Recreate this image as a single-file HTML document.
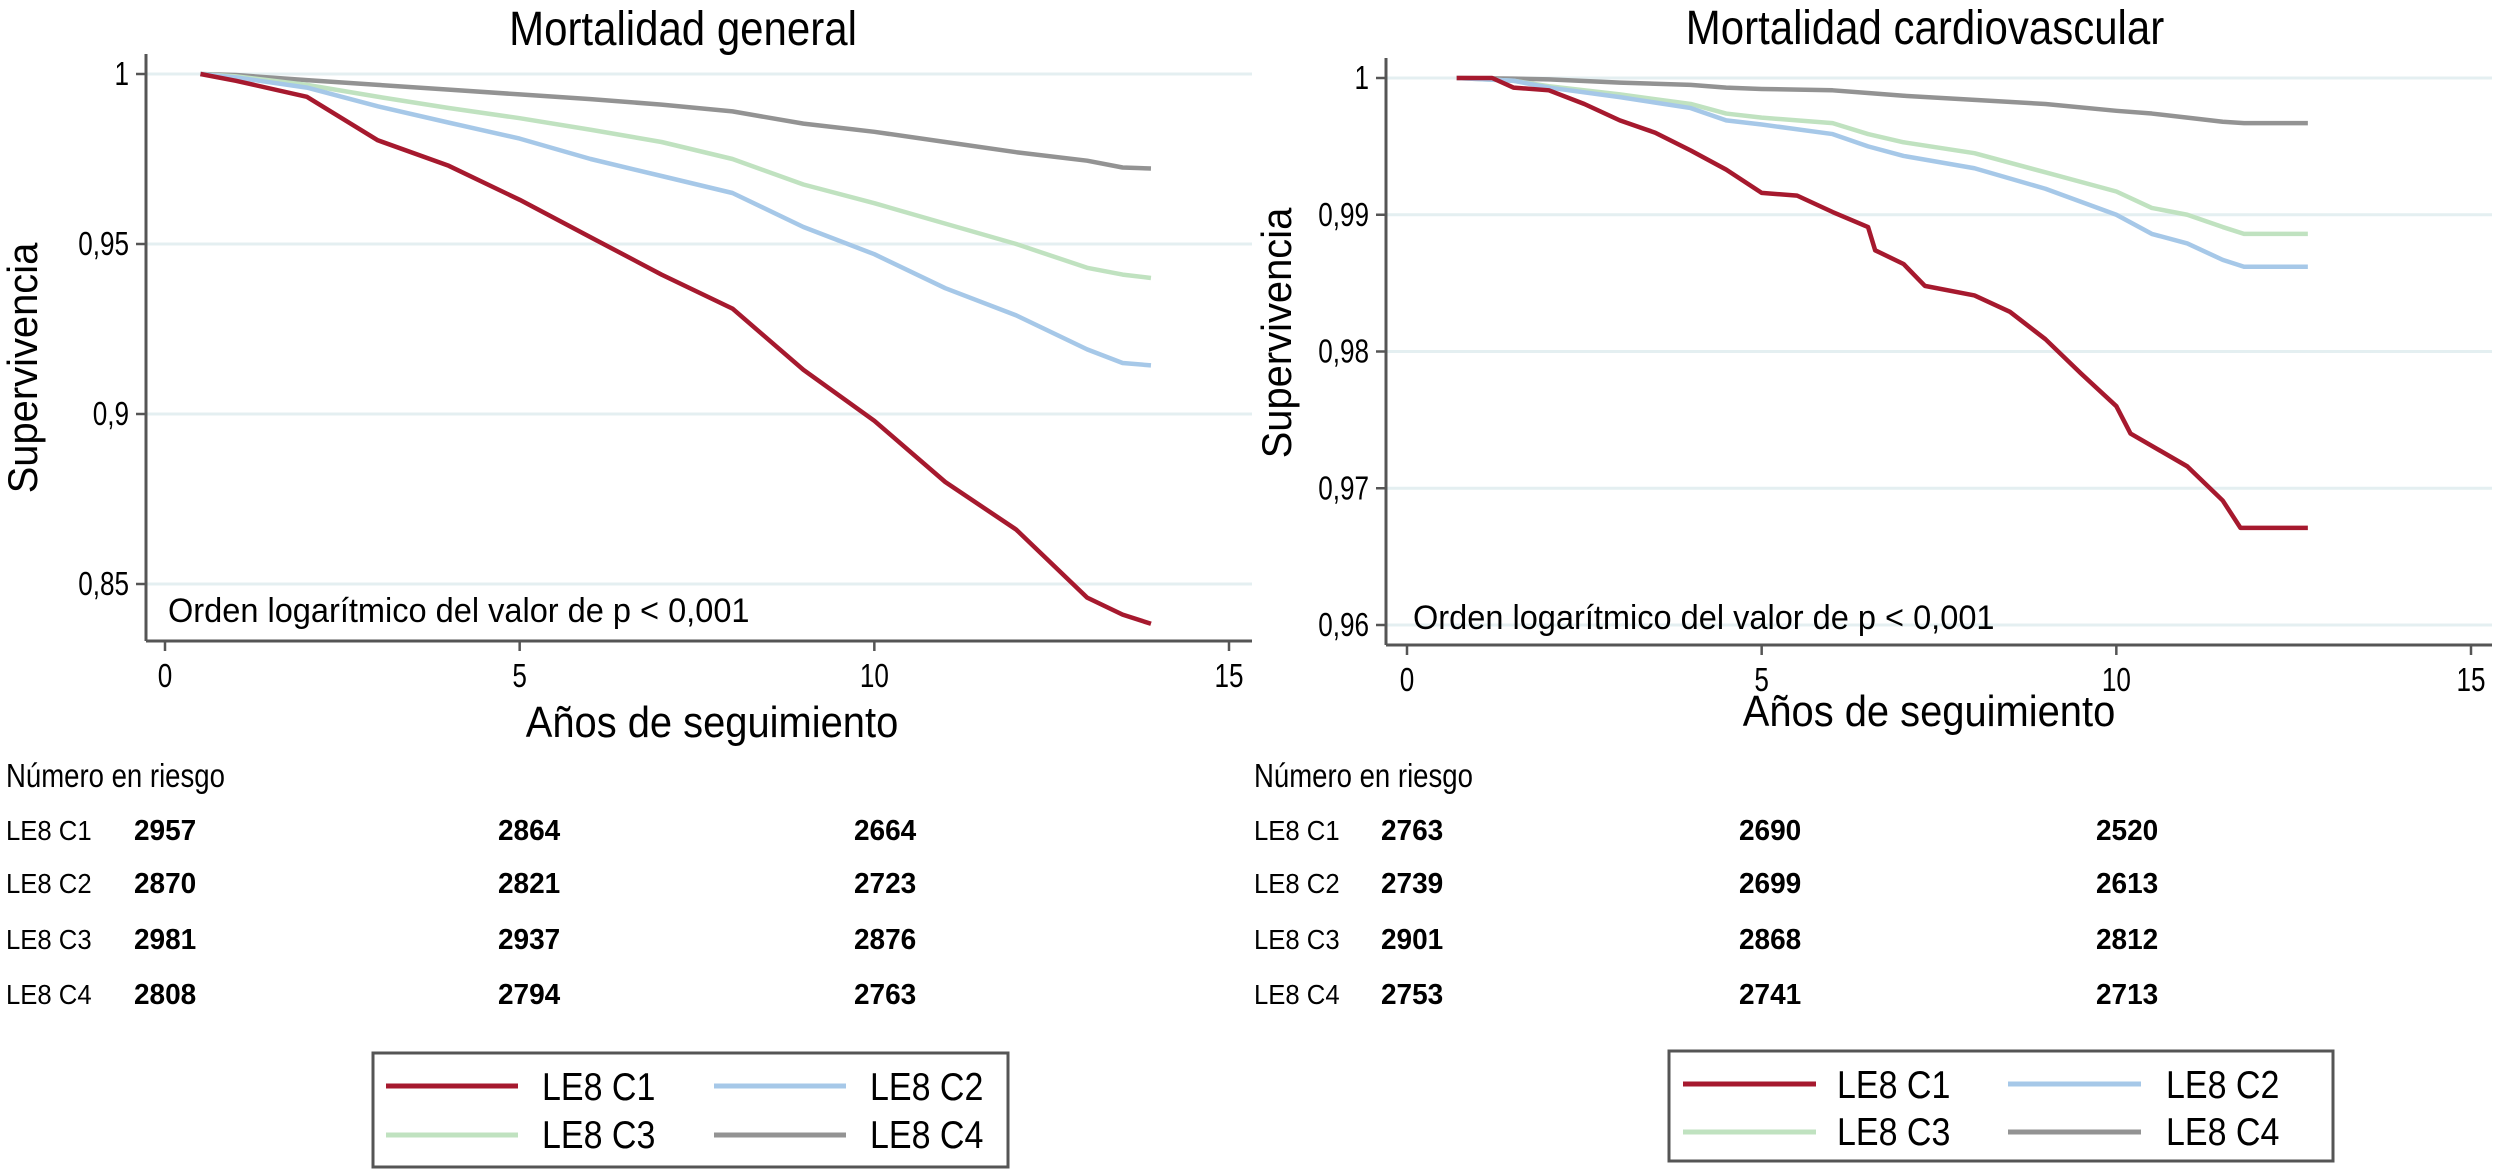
<!DOCTYPE html>
<html><head><meta charset="utf-8">
<style>
html,body{margin:0;padding:0;background:#fff;overflow:hidden;width:2508px;height:1176px;}
svg{display:block;font-family:"Liberation Sans",sans-serif;}
</style></head>
<body>
<svg id="fig" width="2508" height="1176" viewBox="0 0 2508 1176" xmlns="http://www.w3.org/2000/svg">
<rect width="2508" height="1176" fill="#fff"/>
<g id="left"></g>
<g id="right"></g>

<text transform="translate(683,45) scale(1,1.15)" font-size="42" text-anchor="middle" fill="#000">Mortalidad general</text>
<text transform="translate(1925,44) scale(1,1.15)" font-size="42" text-anchor="middle" fill="#000">Mortalidad cardiovascular</text>

<text transform="translate(37,368) rotate(-90) scale(1.05,1.1)" font-size="38" text-anchor="middle" fill="#000">Supervivencia</text>
<text transform="translate(1291,333) rotate(-90) scale(1.05,1.1)" font-size="38" text-anchor="middle" fill="#000">Supervivencia</text>

<text transform="translate(712,737) scale(1.05,1.15)" font-size="38" text-anchor="middle" fill="#000">Años de seguimiento</text>
<text transform="translate(1929,726) scale(1.05,1.15)" font-size="38" text-anchor="middle" fill="#000">Años de seguimiento</text>

<text transform="translate(168,622) scale(1.05,1.12)" font-size="31" fill="#000">Orden logarítmico del valor de p &lt; 0,001</text>
<text transform="translate(1413,629) scale(1.05,1.12)" font-size="31" fill="#000">Orden logarítmico del valor de p &lt; 0,001</text>

<g id="riskL"></g>
<g id="riskR"></g>

<g>
<rect x="373" y="1053" width="635" height="114" fill="#fff" stroke="#555" stroke-width="3"/>
<line x1="386" y1="1086" x2="518" y2="1086" stroke="#a6192e" stroke-width="5"/>
<text transform="translate(542,1100) scale(1,1.15)" font-size="34">LE8 C1</text>
<line x1="714" y1="1086" x2="846" y2="1086" stroke="#a6c8e8" stroke-width="5"/>
<text transform="translate(870,1100) scale(1,1.15)" font-size="34">LE8 C2</text>
<line x1="386" y1="1135" x2="518" y2="1135" stroke="#c0e2c0" stroke-width="5"/>
<text transform="translate(542,1148) scale(1,1.15)" font-size="34">LE8 C3</text>
<line x1="714" y1="1135" x2="846" y2="1135" stroke="#939393" stroke-width="5"/>
<text transform="translate(870,1148) scale(1,1.15)" font-size="34">LE8 C4</text>
</g>
<g>
<rect x="1669" y="1051" width="664" height="110" fill="#fff" stroke="#555" stroke-width="3"/>
<line x1="1683" y1="1084" x2="1816" y2="1084" stroke="#a6192e" stroke-width="5"/>
<text transform="translate(1837,1098) scale(1,1.15)" font-size="34">LE8 C1</text>
<line x1="2008" y1="1084" x2="2141" y2="1084" stroke="#a6c8e8" stroke-width="5"/>
<text transform="translate(2166,1098) scale(1,1.15)" font-size="34">LE8 C2</text>
<line x1="1683" y1="1132" x2="1816" y2="1132" stroke="#c0e2c0" stroke-width="5"/>
<text transform="translate(1837,1145) scale(1,1.15)" font-size="34">LE8 C3</text>
<line x1="2008" y1="1132" x2="2141" y2="1132" stroke="#939393" stroke-width="5"/>
<text transform="translate(2166,1145) scale(1,1.15)" font-size="34">LE8 C4</text>
</g>
</svg>
<script>
const groups = ["LE8 C1","LE8 C2","LE8 C3","LE8 C4"];
const colors = ["#a6192e","#a6c8e8","#c0e2c0","#939393"];
const xTicks = [0,5,10,15];
const xTickLabels = ["0","5","10","15"];

const genYTicks = [1,0.95,0.9,0.85];
const genYTickLabels = ["1","0,95","0,9","0,85"];
const genYears = [0.5,1,2,3,4,5,6,7,8,9,10,11,12,13,13.5,13.9];
const genC1 = [1,0.998,0.9933,0.9805,0.973,0.963,0.952,0.941,0.931,0.913,0.898,0.880,0.866,0.846,0.841,0.8383];
const genC2 = [1,0.999,0.996,0.9905,0.9857,0.981,0.975,0.970,0.965,0.955,0.947,0.937,0.929,0.919,0.915,0.9143];
const genC3 = [1,0.9993,0.9968,0.9933,0.990,0.987,0.9836,0.980,0.975,0.9675,0.962,0.956,0.950,0.943,0.941,0.940];
const genC4 = [1,0.9997,0.9982,0.9968,0.9954,0.994,0.9926,0.991,0.989,0.9854,0.983,0.980,0.977,0.9745,0.9725,0.9722];

const cvYTicks = [1,0.99,0.98,0.97,0.96];
const cvYTickLabels = ["1","0,99","0,98","0,97","0,96"];
const cvC1Years = [0.7,1.2,1.5,2,2.5,3,3.5,4,4.5,5,5.5,6,6.5,6.6,7,7.3,8,8.5,9,9.5,10,10.2,11,11.5,11.75,12.7];
const cvC1 = [1,1,0.9993,0.9991,0.9981,0.9969,0.996,0.9947,0.9933,0.9916,0.9914,0.9902,0.9891,0.9874,0.9864,0.9848,0.9841,0.9829,0.9809,0.9784,0.976,0.974,0.9716,0.9691,0.9671,0.9671];
const cvYears = [0.7,1.5,2,3,4,4.5,5,6,6.5,7,8,9,10,10.5,11,11.5,11.8,12.7];
const cvC2 = [1,0.9998,0.9993,0.9986,0.9978,0.9969,0.9966,0.9959,0.995,0.9943,0.9934,0.9919,0.99,0.9886,0.9879,0.9867,0.9862,0.9862];
const cvC3 = [1,0.9998,0.9994,0.9988,0.9981,0.9974,0.9971,0.9967,0.9959,0.9953,0.9945,0.9931,0.9917,0.9905,0.99,0.9891,0.9886,0.9886];
const cvC4 = [1,0.99995,0.9999,0.99966,0.9995,0.9993,0.9992,0.9991,0.9989,0.9987,0.9984,0.9981,0.9976,0.9974,0.9971,0.9968,0.9967,0.9967];

const genRisk = [[2957,2864,2664],[2870,2821,2723],[2981,2937,2876],[2808,2794,2763]];
const cvRisk = [[2763,2690,2520],[2739,2699,2613],[2901,2868,2812],[2753,2741,2713]];

const NS = "http://www.w3.org/2000/svg";
function mk(tag, attrs){ const e=document.createElementNS(NS,tag); for(const k in attrs) e.setAttribute(k,attrs[k]); return e; }

function drawPanel(g, cfg){
  const sx = v => cfg.x0 + v * (cfg.x15 - cfg.x0) / 15;
  const sy = v => cfg.yTop + (cfg.yMax - v) * (cfg.yBot - cfg.yTop) / (cfg.yMax - cfg.yMin);
  cfg.yTicks.forEach((t,i)=>{
    const gl = mk("line",{x1:cfg.axisX,x2:cfg.right,y1:sy(t),y2:sy(t),stroke:"#e4eff1","stroke-width":3});
    
    
    g.appendChild(gl);
    const tk = mk("line",{x1:cfg.axisX-10,x2:cfg.axisX,y1:sy(t),y2:sy(t),stroke:"#555","stroke-width":2.5});
    
    
    g.appendChild(tk);
    const lb = mk("text",{transform:`translate(${cfg.axisX-17},${sy(t)+11}) scale(0.9,1.15)`,"font-size":29,"text-anchor":"end"});
    lb.textContent = cfg.yLabels[i];
    
    
    g.appendChild(lb);
  });
  const ya = mk("line",{x1:cfg.axisX,x2:cfg.axisX,y1:cfg.plotTop,y2:cfg.axisY,stroke:"#555","stroke-width":3});
  
  
  g.appendChild(ya);
  const xa = mk("line",{x1:cfg.axisX,x2:cfg.right,y1:cfg.axisY,y2:cfg.axisY,stroke:"#555","stroke-width":3});
  
  
  g.appendChild(xa);
  xTicks.forEach((t,i)=>{
    const tk = mk("line",{x1:sx(t),x2:sx(t),y1:cfg.axisY,y2:cfg.axisY+10,stroke:"#555","stroke-width":2.5});
    
    
    g.appendChild(tk);
    const lb = mk("text",{transform:`translate(${sx(t)},${cfg.axisY+46}) scale(0.9,1.15)`,"font-size":29,"text-anchor":"middle"});
    lb.textContent = xTickLabels[i];
    
    
    g.appendChild(lb);
  });
  for(let k=cfg.series.length-1;k>=0;k--){
    const s = cfg.series[k];
    let d = "";
    for(let i=0;i<s.x.length;i++){
      d += (i===0?"M":"L") + sx(s.x[i]) + "," + sy(s.y[i]);
    }
    const p = mk("path",{d:d,fill:"none",stroke:colors[k],"stroke-width":4.5,"stroke-linejoin":"round"});
    
    
    g.appendChild(p);
  }
}

drawPanel(document.getElementById("left"),{
  x0:165,x15:1229,axisX:146,right:1252,axisY:641,plotTop:54,
  yTop:74,yBot:584,yMax:1,yMin:0.85,yTicks:genYTicks,yLabels:genYTickLabels,
  series:[{x:genYears,y:genC1},{x:genYears,y:genC2},{x:genYears,y:genC3},{x:genYears,y:genC4}]
});
drawPanel(document.getElementById("right"),{
  x0:1407,x15:2471,axisX:1386,right:2492,axisY:645,plotTop:58,
  yTop:78,yBot:625,yMax:1,yMin:0.96,yTicks:cvYTicks,yLabels:cvYTickLabels,
  series:[{x:cvC1Years,y:cvC1},{x:cvYears,y:cvC2},{x:cvYears,y:cvC3},{x:cvYears,y:cvC4}]
});

function drawRisk(g, x0, cols, data){
  const h = mk("text",{transform:`translate(${x0},787) scale(0.95,1.15)`,"font-size":29});
  h.textContent = "Número en riesgo";
  
  
  g.appendChild(h);
  const rowsY = [840,893,949,1004];
  groups.forEach((grp,r)=>{
    const lb = mk("text",{transform:`translate(${x0},${rowsY[r]}) scale(1.07,1.15)`,"font-size":24});
    lb.textContent = grp;
    
    
    g.appendChild(lb);
    data[r].forEach((v,c)=>{
      const t = mk("text",{transform:`translate(${cols[c]},${rowsY[r]}) scale(1.12,1.15)`,"font-size":25,"font-weight":"bold"});
      t.textContent = String(v);
      
      
      g.appendChild(t);
    });
  });
}
drawRisk(document.getElementById("riskL"),6,[134,498,854],genRisk);
drawRisk(document.getElementById("riskR"),1254,[1381,1739,2096],cvRisk);
</script>
</body></html>
